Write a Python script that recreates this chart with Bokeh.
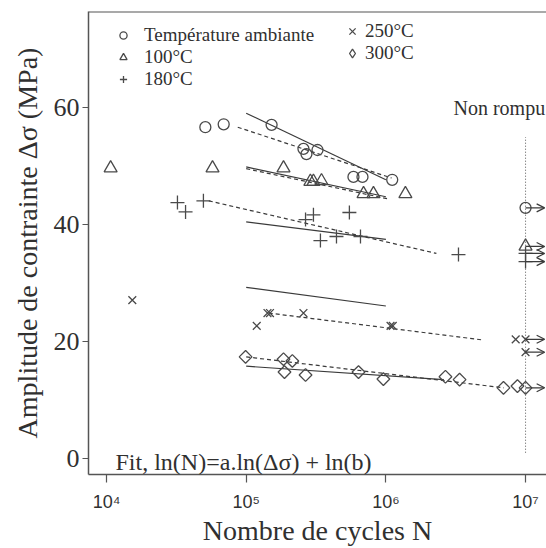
import math
from bokeh.plotting import figure
from bokeh.models import (Range1d, Span, Label, Arrow, OpenHead, ColumnDataSource,
                          FixedTicker, Legend, LegendItem)
from bokeh.embed import file_html
from bokeh.resources import INLINE

# ---------------- data ----------------
series_names = ["Température ambiante", "100°C", "180°C", "250°C", "300°C"]

amb_N = [5.1e4, 6.9e4, 1.52e5, 2.57e5, 2.70e5, 3.24e5, 5.86e5, 6.80e5, 1.11e6]
amb_S = [56.7, 57.2, 57.1, 53.0, 52.1, 52.8, 48.2, 48.2, 47.7]

t100_N = [1.07e4, 5.74e4, 1.85e5, 2.88e5, 3.03e5, 3.46e5, 6.92e5, 8.15e5, 1.38e6]
t100_S = [49.7, 49.7, 49.7, 47.4, 47.4, 47.5, 45.3, 45.3, 45.3]

t180_N = [3.22e4, 3.68e4, 4.94e4, 3.03e5, 2.66e5, 5.48e5, 3.40e5, 4.43e5, 6.58e5, 3.31e6]
t180_S = [43.8, 42.2, 44.1, 41.7, 40.9, 42.1, 37.3, 38.0, 38.0, 34.9]

t250_N = [1.53e4, 1.42e5, 1.48e5, 2.57e5, 1.19e5, 1.08e6, 1.12e6, 8.5e6]
t250_S = [27.1, 24.9, 24.9, 24.9, 22.7, 22.7, 22.7, 20.4]

t300_N = [9.9e4, 1.85e5, 2.14e5, 1.88e5, 2.66e5, 6.37e5, 9.6e5, 2.67e6, 3.37e6, 6.95e6, 8.75e6]
t300_S = [17.4, 17.0, 16.7, 14.8, 14.3, 14.8, 13.6, 14.0, 13.5, 12.1, 12.4]

# run-outs (non rompu) at 1e7 cycles
runout_N = 1e7
amb_runout_S = [42.9]
t100_runout_S = [36.3]
t180_runout_S = [35.1, 33.7]
t250_runout_S = [20.4, 18.2]
t300_runout_S = [12.1]

# fit lines: ln(N) = a.ln(S) + ln(b)  (solid and dashed), endpoints
fit_solid_N = [[1e5, 1e6], [1e5, 1e6], [1e5, 1e6], [1e5, 1e6], [1e5, 2.6e6]]
fit_solid_S = [[59.1, 47.7], [49.9, 44.8], [40.5, 37.5], [29.3, 26.1], [15.8, 13.5]]
fit_dash_N = [[8.7e4, 1.1e6], [1e5, 1.05e6], [5.4e4, 2.3e6], [1.45e5, 4.9e6], [1e5, 7e6]]
fit_dash_S = [[56.7, 48.0], [49.6, 44.4], [44.1, 35.1], [24.9, 20.3], [17.4, 12.1]]

x_ticks = [1e4, 1e5, 1e6, 1e7]
x_tick_labels = ["10⁴", "10⁵", "10⁶", "10⁷"]
y_ticks = [0, 20, 40, 60]

# ---------------- style ----------------
SERIF = "Liberation Serif"
INK = "#303030"
MK = "#4a4a4a"
LN = "#3a3a3a"

p = figure(width=546, height=548, x_axis_type="log",
           x_range=Range1d(10 ** 3.871, 10 ** 7.15), y_range=Range1d(-2.73, 76.5),
           output_backend="svg", toolbar_location=None,
           min_border_left=88, min_border_right=0, min_border_top=11, min_border_bottom=72)
p.outline_line_color = None
p.xgrid.visible = False
p.ygrid.visible = False
p.background_fill_color = "white"
p.border_fill_color = "white"

# top border
p.add_layout(Span(location=76.45, dimension="width", line_color="#555555", line_width=1.5))

# fit lines
for ns, ss in zip(fit_solid_N, fit_solid_S):
    p.line(ns, ss, line_color=LN, line_width=1.2)
for ns, ss in zip(fit_dash_N, fit_dash_S):
    p.line(ns, ss, line_color=LN, line_width=1.2, line_dash="4 3")

# vertical dotted run-out line
p.line([runout_N, runout_N], [1, 55], line_color="#555555", line_width=1, line_dash="1 2")

# scatter series (including run-outs)
def allpts(N, S, rS):
    return list(N) + [runout_N] * len(rS), list(S) + list(rS)

kw = dict(fill_color=None, line_color=MK, line_width=1.3)
xa, ya = allpts(amb_N, amb_S, amb_runout_S)
r_amb = p.scatter(xa, ya, marker="circle", size=11, **kw)
xa, ya = allpts(t100_N, t100_S, t100_runout_S)
r_100 = p.scatter(xa, ya, marker="triangle", size=13, **kw)
xa, ya = allpts(t180_N, t180_S, t180_runout_S)
r_180 = p.scatter(xa, ya, marker="cross", size=14, **kw)
xa, ya = allpts(t250_N, t250_S, t250_runout_S)
r_250 = p.scatter(xa, ya, marker="x", size=11, **kw)
xa, ya = allpts(t300_N, t300_S, t300_runout_S)
r_300 = p.scatter(xa, ya, marker="square", angle=math.pi / 4, size=9, **kw)
# hidden twin renderer, only used to draw the diamond symbol in the legend
r_300_leg = p.scatter(t300_N, t300_S, marker="diamond", size=12, visible=False, **kw)

# run-out arrows
ry = amb_runout_S + t100_runout_S + t180_runout_S + t250_runout_S + t300_runout_S
arrow_src = ColumnDataSource(dict(x0=[runout_N] * len(ry), x1=[runout_N * 1.37] * len(ry),
                                  y=ry))
p.add_layout(Arrow(end=OpenHead(size=8, line_color=LN, line_width=1.2),
                   x_start="x0", y_start="y", x_end="x1", y_end="y",
                   line_color=LN, line_width=1.2, source=arrow_src))

# legends
leg_common = dict(border_line_color=None, background_fill_alpha=0, padding=0,
                  spacing=0, label_height=20,
                  label_text_font=SERIF, label_text_font_size="19px",
                  label_text_color=INK, margin=0, inactive_fill_alpha=0,
                  click_policy="none")
leg1 = Legend(items=[LegendItem(label=series_names[0], renderers=[r_amb]),
                     LegendItem(label=series_names[1], renderers=[r_100]),
                     LegendItem(label=series_names[2], renderers=[r_180])],
              location=(26, 384), label_standoff=12, glyph_width=18, glyph_height=18,
              **leg_common)
leg2 = Legend(items=[LegendItem(label=series_names[3], renderers=[r_250]),
                     LegendItem(label=series_names[4], renderers=[r_300_leg])],
              location=(253, 410), label_standoff=2, glyph_width=22, glyph_height=22,
              **leg_common)
p.add_layout(leg1)
p.add_layout(leg2)

# annotations
p.add_layout(Label(x=1.16e4, y=-0.6, text="Fit, ln(N)=a.ln(Δσ) + ln(b)",
                   text_font=SERIF, text_font_size="24px", text_color=INK,
                   text_baseline="middle"))
p.add_layout(Label(x=3.05e6, y=60.0, text="Non rompu",
                   text_font=SERIF, text_font_size="20px", text_color=INK,
                   text_baseline="middle"))

# axes
p.xaxis.ticker = FixedTicker(ticks=x_ticks)
p.xaxis.major_label_overrides = {int(v): l for v, l in zip(x_ticks, x_tick_labels)}
p.xaxis.minor_tick_line_color = None
p.xaxis.major_tick_in = 0
p.xaxis.major_tick_out = 8
p.xaxis.major_label_standoff = 9
p.xaxis.major_label_text_font = "Liberation Sans"
p.xaxis.major_label_text_font_size = "18px"
p.xaxis.major_label_text_color = INK
p.xaxis.axis_label = "Nombre de cycles N"
p.xaxis.axis_label_text_font = SERIF
p.xaxis.axis_label_text_font_style = "normal"
p.xaxis.axis_label_text_font_size = "28px"
p.xaxis.axis_label_text_color = INK
p.xaxis.axis_label_standoff = 0

p.yaxis.ticker = FixedTicker(ticks=y_ticks)
p.yaxis.minor_tick_line_color = None
p.yaxis.major_tick_in = 0
p.yaxis.major_tick_out = 6
p.yaxis.major_label_standoff = 3
p.yaxis.major_label_text_font = SERIF
p.yaxis.major_label_text_font_size = "26px"
p.yaxis.major_label_text_color = INK
p.yaxis.axis_label = "Amplitude de contrainte Δσ (MPa)"
p.yaxis.axis_label_text_font = SERIF
p.yaxis.axis_label_text_font_style = "normal"
p.yaxis.axis_label_text_font_size = "28px"
p.yaxis.axis_label_text_color = INK
p.yaxis.axis_label_standoff = 8

for ax in (p.xaxis, p.yaxis):
    ax.axis_line_color = "#555555"
    ax.axis_line_width = 1.5
    ax.major_tick_line_color = "#555555"
    ax.major_tick_line_width = 1.2

open("out.html", "w").write(file_html(p, INLINE))
